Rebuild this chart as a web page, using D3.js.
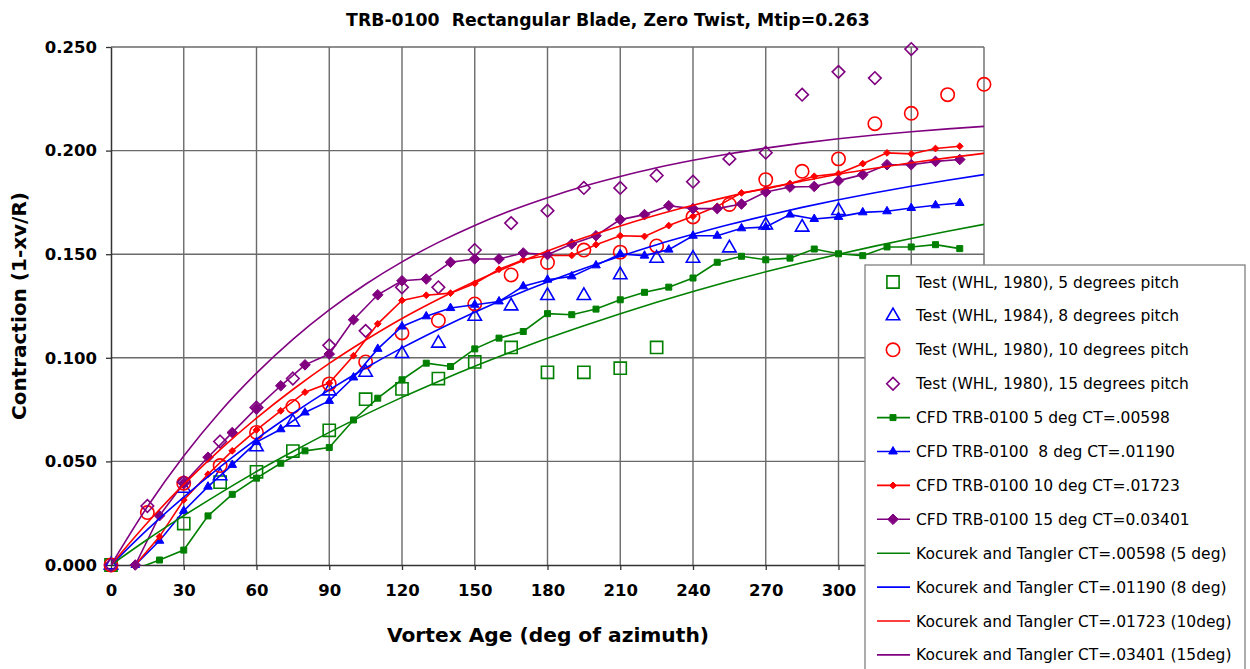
<!DOCTYPE html>
<html>
<head>
<meta charset="utf-8">
<script src="https://cdn.jsdelivr.net/npm/d3@7"></script>
<style>
  html, body { margin: 0; padding: 0; background: #fff; }
  svg { display: block; font-family: "DejaVu Sans", Verdana, sans-serif; }
</style>
</head>
<body>
<div id="chart"></div>
<script>
// --- data ---
const xTicks = [0, 30, 60, 90, 120, 150, 180, 210, 240, 270, 300, 330, 360];
const xTickLabels = [0, 30, 60, 90, 120, 150, 180, 210, 240, 270, 300];
const yTicks = [0, 0.05, 0.10, 0.15, 0.20, 0.25];

// test points (open markers)
const ageTest5 = [0, 30, 45, 60, 75, 90, 105, 120, 135, 150, 165, 180, 195, 210, 225];
const test5 = [0, 0.020, 0.040, 0.045, 0.055, 0.065, 0.080, 0.085, 0.090, 0.098, 0.105, 0.093, 0.093, 0.095, 0.105];

const ageTest8 = [0, 30, 45, 60, 75, 90, 105, 120, 135, 150, 165, 180, 195, 210, 225, 240, 255, 270, 285, 300];
const test8 = [0, 0.037, 0.043, 0.057, 0.069, 0.084, 0.093, 0.102, 0.107, 0.120, 0.125, 0.130, 0.130, 0.140, 0.148, 0.148, 0.153, 0.164, 0.163, 0.171];

const ageTest10 = [0, 15, 30, 45, 60, 75, 90, 105, 120, 135, 150, 165, 180, 195, 210, 225, 240, 255, 270, 285, 300, 315, 330, 345, 360];
const test10 = [0, 0.0253, 0.0395, 0.048, 0.064, 0.0765, 0.0874, 0.098, 0.112, 0.118, 0.126, 0.140, 0.146, 0.152, 0.151, 0.154, 0.168, 0.174, 0.186, 0.190, 0.196, 0.213, 0.218, 0.227, 0.232];

const ageTest15 = [0, 15, 30, 45, 60, 75, 90, 105, 120, 135, 150, 165, 180, 195, 210, 225, 240, 255, 270, 285, 300, 315, 330];
const test15 = [0, 0.0285, 0.040, 0.0596, 0.076, 0.090, 0.106, 0.113, 0.134, 0.134, 0.152, 0.165, 0.171, 0.182, 0.182, 0.188, 0.185, 0.196, 0.199, 0.227, 0.238, 0.235, 0.249];

// CFD (filled markers + line)
const ageCfd = [10, 20, 30, 40, 50, 60, 70, 80, 90, 100, 110, 120, 130, 140, 150, 160, 170, 180,
  190, 200, 210, 220, 230, 240, 250, 260, 270, 280, 290, 300, 310, 320, 330, 340, 350];
const cfd5 = [-0.002, 0.0024, 0.0072, 0.0237, 0.0341, 0.0419, 0.0491, 0.0551, 0.0567, 0.0700, 0.0805, 0.0894,
  0.0974, 0.0958, 0.1043, 0.1095, 0.1127, 0.1213, 0.1208, 0.1235, 0.1280, 0.1316, 0.1341, 0.1385, 0.1461,
  0.1490, 0.1473, 0.1481, 0.1525, 0.1502, 0.1493, 0.1535, 0.1535, 0.1546, 0.1527];
const cfd8 = [0, 0.0117, 0.0261, 0.0378, 0.0483, 0.0593, 0.0655, 0.0736, 0.0792, 0.0905, 0.1043, 0.1151,
  0.1200, 0.1240, 0.1256, 0.1272, 0.1345, 0.1377, 0.1393, 0.1446, 0.1501, 0.1493, 0.1522, 0.1589, 0.1589,
  0.1625, 0.1631, 0.1691, 0.1670, 0.1680, 0.1702, 0.1707, 0.1723, 0.1736, 0.1747];
const cfd10 = [0, 0.0137, 0.0314, 0.0438, 0.0551, 0.0652, 0.0744, 0.0834, 0.0878, 0.1010, 0.1164, 0.1277,
  0.1302, 0.1312, 0.1359, 0.1427, 0.1473, 0.1494, 0.1494, 0.1546, 0.1589, 0.1586, 0.1638, 0.1683, 0.1731,
  0.1796, 0.1815, 0.1841, 0.1876, 0.1889, 0.1937, 0.1989, 0.1984, 0.2010, 0.2021];
const cfd15 = [0, 0.0238, 0.0395, 0.0520, 0.0639, 0.0757, 0.0865, 0.0966, 0.1018, 0.1184, 0.1304, 0.1372,
  0.1380, 0.1461, 0.1477, 0.1477, 0.1506, 0.1498, 0.1549, 0.1589, 0.1667, 0.1691, 0.1734, 0.1720, 0.1720,
  0.1742, 0.1800, 0.1824, 0.1827, 0.1855, 0.1884, 0.1932, 0.1932, 0.1948, 0.1957];

// Kocurek and Tangler curves
const ageKt = [0, 15, 30, 45, 60, 75, 90, 105, 120, 135, 150, 165, 180, 195, 210, 225, 240, 255, 270, 285, 300, 315, 330, 345, 360];
const kt5 = [0, 0.0123, 0.0238, 0.0347, 0.0451, 0.0548, 0.0640, 0.0727, 0.0809, 0.0886, 0.0959, 0.1028, 0.1094,
  0.1155, 0.1213, 0.1268, 0.1320, 0.1369, 0.1415, 0.1459, 0.1500, 0.1539, 0.1576, 0.1611, 0.1644];
const kt8 = [0, 0.0171, 0.0328, 0.0474, 0.0608, 0.0731, 0.0845, 0.0951, 0.1048, 0.1137, 0.1220, 0.1296, 0.1366,
  0.1431, 0.1490, 0.1546, 0.1596, 0.1643, 0.1686, 0.1726, 0.1763, 0.1797, 0.1828, 0.1857, 0.1884];
const kt10 = [0, 0.0204, 0.0389, 0.0557, 0.0709, 0.0847, 0.0973, 0.1086, 0.1190, 0.1283, 0.1368, 0.1445, 0.1515,
  0.1579, 0.1636, 0.1689, 0.1736, 0.1779, 0.1818, 0.1853, 0.1886, 0.1915, 0.1941, 0.1965, 0.1987];
const kt15 = [0, 0.0281, 0.0526, 0.0740, 0.0926, 0.1089, 0.1231, 0.1355, 0.1463, 0.1557, 0.1639, 0.1711, 0.1773,
  0.1828, 0.1875, 0.1917, 0.1953, 0.1985, 0.2012, 0.2036, 0.2057, 0.2075, 0.2091, 0.2105, 0.2117];

const GREEN = "#008000", BLUE = "#0000ff", RED = "#ff0000", PURPLE = "#800080";

const testSeries = [
  { name: "Test (WHL, 1980), 5 degrees pitch", age: ageTest5, val: test5, color: GREEN, shape: "square" },
  { name: "Test (WHL, 1984), 8 degrees pitch", age: ageTest8, val: test8, color: BLUE, shape: "triangle" },
  { name: "Test (WHL, 1980), 10 degrees pitch", age: ageTest10, val: test10, color: RED, shape: "circle" },
  { name: "Test (WHL, 1980), 15 degrees pitch", age: ageTest15, val: test15, color: PURPLE, shape: "diamond" }
];
const cfdSeries = [
  { name: "CFD TRB-0100 5 deg CT=.00598", val: cfd5, color: GREEN, shape: "fsquare" },
  { name: "CFD TRB-0100  8 deg CT=.01190", val: cfd8, color: BLUE, shape: "ftriangle" },
  { name: "CFD TRB-0100 10 deg CT=.01723", val: cfd10, color: RED, shape: "smalldiamond" },
  { name: "CFD TRB-0100 15 deg CT=0.03401", val: cfd15, color: PURPLE, shape: "fdiamond" }
];
const ktSeries = [
  { name: "Kocurek and Tangler CT=.00598 (5 deg)", val: kt5, color: GREEN },
  { name: "Kocurek and Tangler CT=.01190 (8 deg)", val: kt8, color: BLUE },
  { name: "Kocurek and Tangler CT=.01723 (10deg)", val: kt10, color: RED },
  { name: "Kocurek and Tangler CT=.03401 (15deg)", val: kt15, color: PURPLE }
];

const width = 1250, height = 669;
const plot = { left: 111, right: 984, top: 47, bottom: 565 };

const svg = d3.select("#chart").append("svg")
  .attr("width", width)
  .attr("height", height);

const x = d3.scaleLinear().domain([0, 360]).range([plot.left, plot.right]);
const y = d3.scaleLinear().domain([0, 0.25]).range([plot.bottom, plot.top]);

// -- grid --
const gridColor = "#6a6a6a";
svg.append("g")
  .selectAll("line")
  .data(xTicks.slice(1))
  .join("line")
  .attr("x1", d => x(d)).attr("x2", d => x(d))
  .attr("y1", plot.top).attr("y2", plot.bottom)
  .attr("stroke", gridColor).attr("stroke-width", 1.4);
svg.append("g")
  .selectAll("line")
  .data(yTicks.slice(1))
  .join("line")
  .attr("x1", plot.left).attr("x2", plot.right)
  .attr("y1", d => y(d)).attr("y2", d => y(d))
  .attr("stroke", gridColor).attr("stroke-width", 1.4);

// -- axes --
const xAxis = svg.append("g")
  .attr("transform", `translate(0,${plot.bottom})`)
  .call(d3.axisBottom(x).tickValues(xTickLabels).tickSize(5).tickSizeOuter(0).tickPadding(10).tickFormat(d3.format("d")));
const yAxis = svg.append("g")
  .attr("transform", `translate(${plot.left},0)`)
  .call(d3.axisLeft(y).tickValues(yTicks).tickSize(5).tickSizeOuter(0).tickPadding(9).tickFormat(d3.format(".3f")));

[xAxis, yAxis].forEach(a => {
  a.select(".domain").attr("stroke", "#333").attr("stroke-width", 1.5);
  a.selectAll(".tick line").attr("stroke", "#333").attr("stroke-width", 1.3);
  a.selectAll(".tick text")
    .attr("fill", "#000")
    .style("font-family", "'DejaVu Sans', sans-serif")
    .style("font-size", "16.5px")
    .style("font-weight", "bold");
});
xAxis.selectAll(".tick text").attr("dy", "0.95em");

// -- markers --
function markerPath(shape) {
  switch (shape) {
    case "square": return d3.symbol(d3.symbolSquare, 148)();
    case "triangle": return d3.symbol(d3.symbolTriangle, 78)();
    case "circle": return d3.symbol(d3.symbolCircle, 140)();
    case "diamond": return "M0,-6.3L6.3,0L0,6.3L-6.3,0Z";
    case "fsquare": return d3.symbol(d3.symbolSquare, 36)();
    case "ftriangle": return d3.symbol(d3.symbolTriangle, 32)();
    case "smalldiamond": return "M0,-3.4L3.4,0L0,3.4L-3.4,0Z";
    case "fdiamond": return "M0,-5.3L5.3,0L0,5.3L-5.3,0Z";
  }
}

// test points
testSeries.forEach(s => {
  const pts = s.age.map((a, i) => [a, s.val[i]]);
  svg.append("g")
    .selectAll("path")
    .data(pts)
    .join("path")
    .attr("d", markerPath(s.shape))
    .attr("transform", d => `translate(${x(d[0])},${y(d[1])})`)
    .attr("fill", "none")
    .attr("stroke", s.color)
    .attr("stroke-width", 1.6);
});

svg.append("clipPath").attr("id", "plotclip")
  .append("rect")
  .attr("x", plot.left).attr("y", plot.top)
  .attr("width", plot.right - plot.left).attr("height", plot.bottom - plot.top);

const line = d3.line().x(d => x(d[0])).y(d => y(d[1]));
const smooth = d3.line().x(d => x(d[0])).y(d => y(d[1])).curve(d3.curveMonotoneX);

// CFD lines with markers
cfdSeries.forEach(s => {
  const pts = ageCfd.map((a, i) => [a, s.val[i]]);
  svg.append("path")
    .datum(pts)
    .attr("clip-path", "url(#plotclip)")
    .attr("d", line)
    .attr("fill", "none")
    .attr("stroke", s.color)
    .attr("stroke-width", 1.6);
  svg.append("g")
    .selectAll("path")
    .data(pts.filter(d => d[1] >= 0))
    .join("path")
    .attr("d", markerPath(s.shape))
    .attr("transform", d => `translate(${x(d[0])},${y(d[1])})`)
    .attr("fill", s.color)
    .attr("stroke", s.color)
    .attr("stroke-width", 1);
});

// Kocurek and Tangler curves
ktSeries.forEach(s => {
  const pts = ageKt.map((a, i) => [a, s.val[i]]);
  svg.append("path")
    .datum(pts)
    .attr("clip-path", "url(#plotclip)")
    .attr("d", smooth)
    .attr("fill", "none")
    .attr("stroke", s.color)
    .attr("stroke-width", 1.6);
});

// -- titles --
svg.append("text")
  .attr("x", 608).attr("y", 26)
  .attr("text-anchor", "middle")
  .style("white-space", "pre")
  .style("font-size", "17.3px")
  .style("font-weight", "bold")
  .text("TRB-0100  Rectangular Blade, Zero Twist, Mtip=0.263");

svg.append("text")
  .attr("x", 548).attr("y", 642)
  .attr("text-anchor", "middle")
  .style("font-size", "20.2px")
  .style("font-weight", "bold")
  .text("Vortex Age (deg of azimuth)");

svg.append("text")
  .attr("transform", `translate(26,${(plot.top + plot.bottom) / 2}) rotate(-90)`)
  .attr("text-anchor", "middle")
  .style("font-size", "20px")
  .style("font-weight", "bold")
  .text("Contraction (1-xv/R)");

// -- legend --
const legend = svg.append("g").attr("transform", "translate(865,265)");
legend.append("rect")
  .attr("width", 380).attr("height", 420)
  .attr("fill", "#fff")
  .attr("stroke", "#808080")
  .attr("stroke-width", 1.3);

const rowH = 33.9;
const entries = [
  ...testSeries.map(s => ({ ...s, kind: "test" })),
  ...cfdSeries.map(s => ({ ...s, kind: "cfd" })),
  ...ktSeries.map(s => ({ ...s, kind: "kt" }))
];
const row = legend.selectAll("g.row")
  .data(entries)
  .join("g")
  .attr("class", "row")
  .attr("transform", (d, i) => `translate(0,${17 + i * rowH})`);

row.filter(d => d.kind !== "test")
  .append("line")
  .attr("x1", 12).attr("x2", 45)
  .attr("stroke", d => d.color)
  .attr("stroke-width", 1.6);

row.filter(d => d.kind !== "kt")
  .append("path")
  .attr("transform", "translate(28,0)")
  .attr("d", d => markerPath(d.shape))
  .attr("fill", d => d.kind === "test" ? "none" : d.color)
  .attr("stroke", d => d.color)
  .attr("stroke-width", d => d.kind === "test" ? 1.6 : 1);

row.append("text")
  .attr("x", 51)
  .attr("dy", "0.36em")
  .style("white-space", "pre")
  .style("font-size", "15.5px")
  .text(d => d.name);
</script>
</body>
</html>
